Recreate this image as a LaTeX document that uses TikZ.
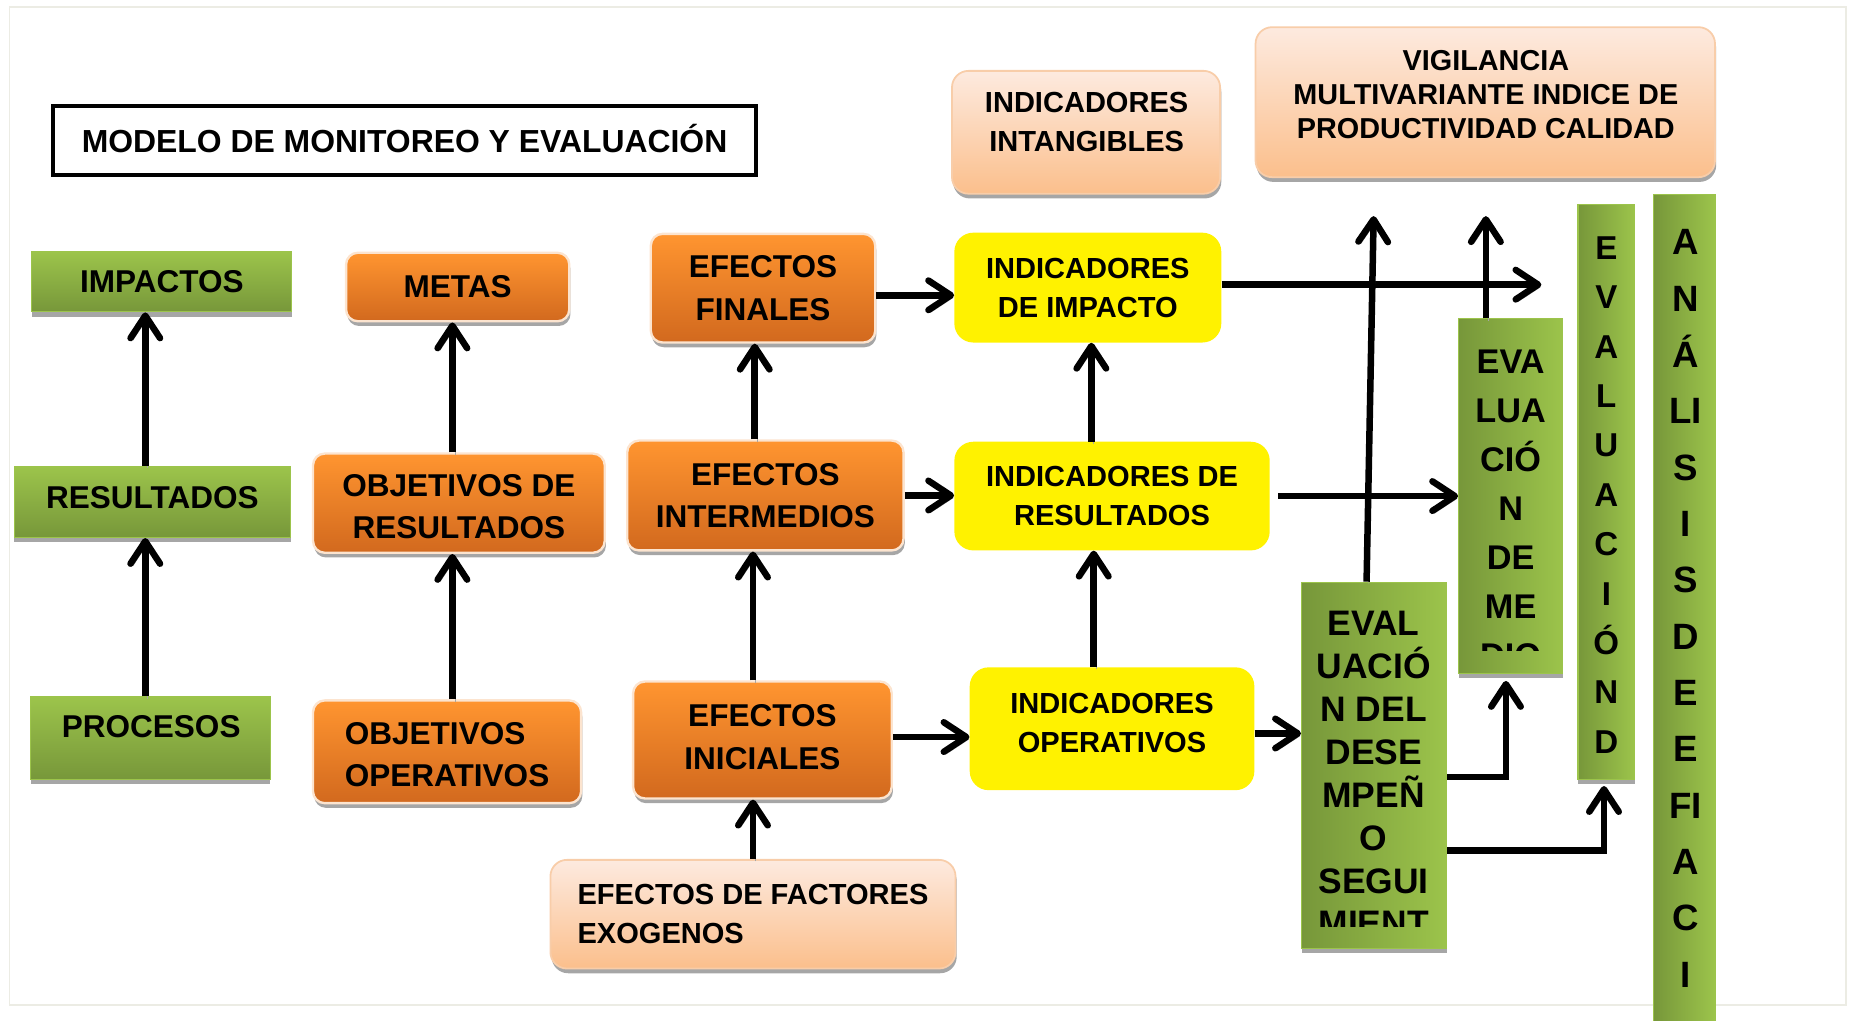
\documentclass[tikz,border=0pt]{standalone}
\usepackage{fontspec}
\setmainfont{Liberation Sans}
\usepackage{tikz}
\usetikzlibrary{arrows.meta,shadows}

\definecolor{grnTop}{HTML}{9CC44B}
\definecolor{grnBot}{HTML}{77973A}
\definecolor{orgTop}{HTML}{FF9530}
\definecolor{orgBot}{HTML}{D2691E}
\definecolor{orgLine}{HTML}{FCE4CF}
\definecolor{pchTop}{HTML}{FDEADF}
\definecolor{pchBot}{HTML}{FBBF8C}
\definecolor{pchLine}{HTML}{F8CDA9}
\definecolor{frameGray}{HTML}{ECECE4}
\definecolor{shadeGray}{HTML}{A6A6A6}

\begin{document}
\begin{tikzpicture}[x=1pt,y=-1pt,
        txt/.style={font=\fontsize{26.7}{36}\selectfont\bfseries, align=center},
        smalltxt/.style={font=\fontsize{24.6}{33}\selectfont\bfseries, align=center},
        greenbox/.style={txt, rectangle, top color=grnTop, bottom color=grnBot, draw=grnTop, line width=1pt,
            drop shadow={shadow xshift=0pt, shadow yshift=-4pt, fill=shadeGray, opacity=1}},
        vgreen/.style={rectangle, left color=grnBot, right color=grnTop, draw=grnTop, line width=1pt,
            drop shadow={shadow xshift=0pt, shadow yshift=-4pt, fill=shadeGray, opacity=1}},
        orgbox/.style={txt, rounded corners=10pt, top color=orgTop, bottom color=orgBot, draw=orgLine, line width=2pt,
            drop shadow={shadow xshift=1pt, shadow yshift=-4pt, fill=shadeGray, opacity=1}},
        pchbox/.style={smalltxt, rounded corners=14pt, top color=pchTop, bottom color=pchBot, draw=pchLine, line width=1.5pt,
            drop shadow={shadow xshift=1pt, shadow yshift=-4pt, fill=shadeGray, opacity=1}},
        ylwbox/.style={smalltxt, rounded corners=16pt, fill=yellow},
        vtxt/.style={align=center},
        arr/.style={line width=5.5pt, -{Straight Barb[length=19pt, width=25pt, round]},
            preaction={draw=shadeGray, transform canvas={shift={(2pt,-2pt)}}}}]
        \useasboundingbox (0,0) rectangle (1568,864);
        \draw [frameGray, line width=1.5pt] (8,6) rectangle (1563,851);

        \node [draw=black, line width=3.5pt, minimum width=595pt, minimum height=58pt, text height=19.4pt, text depth=0pt,
            font=\fontsize{27}{30}\selectfont\bfseries] (titulo) at (342.5,119) {MODELO DE MONITOREO Y EVALUACIÓN};

        % procesos / resultados / impactos
        \node [greenbox, minimum width=220pt, minimum height=51pt] (impactos) at (137,238.5) {IMPACTOS};
        \node [greenbox, minimum width=234pt, minimum height=60pt] (resultados) at (129,425) {};
        \node [txt] (resultadosT) at (129,421) {RESULTADOS};
        \node [greenbox, minimum width=203pt, minimum height=70pt] (procesos) at (127.5,625) {};
        \node [txt] (procesosT) at (128,615) {PROCESOS};

        % objetivos
        \node [orgbox, minimum width=189pt, minimum height=58pt] (metas) at (387.5,243) {METAS};
        \node [orgbox, minimum width=247pt, minimum height=84pt] (objres) at (388.5,426) {};
        \node [txt] (objresT) at (388.5,429) {OBJETIVOS DE\\RESULTADOS};
        \node [orgbox, minimum width=227pt, minimum height=87pt, align=left] (objop) at (378.5,636.5) {};
        \node [txt, align=left] (objopT) at (378.5,639) {OBJETIVOS\\OPERATIVOS};

        % efectos
        \node [orgbox, minimum width=190pt, minimum height=92pt] (efin) at (646,244) {EFECTOS\\FINALES};
        \node [orgbox, minimum width=234pt, minimum height=93pt] (eint) at (648,419.5) {EFECTOS\\INTERMEDIOS};
        \node [orgbox, minimum width=219pt, minimum height=99pt] (eini) at (645.5,626.5) {};
        \node [txt] (einiT) at (645.5,624) {EFECTOS\\INICIALES};
        \node [pchbox, minimum width=343pt, minimum height=92pt, align=left] (exog) at (637.5,774) {EFECTOS DE FACTORES\\EXOGENOS};

        % indicadores
        \node [pchbox, minimum width=227pt, minimum height=104pt] (intang) at (919.5,112) {};
        \node [smalltxt] (intangT) at (920,103.5) {INDICADORES\\INTANGIBLES};
        \node [pchbox, minimum width=389pt, minimum height=127pt] (vigil) at (1257.5,86.5) {};
        \node [smalltxt, font=\fontsize{24.4}{29}\selectfont\bfseries] (vigilT) at (1258,80) {VIGILANCIA\\MULTIVARIANTE INDICE DE\\PRODUCTIVIDAD CALIDAD};
        \node [ylwbox, minimum width=226pt, minimum height=93pt] (iimp) at (921,243.5) {INDICADORES\\DE IMPACTO};
        \node [ylwbox, minimum width=267pt, minimum height=92pt] (ires) at (941.5,420) {INDICADORES DE\\RESULTADOS};
        \node [ylwbox, minimum width=241pt, minimum height=104pt] (iop) at (941.5,617) {};
        \node [smalltxt] (iopT) at (941.5,612) {INDICADORES\\OPERATIVOS};

        % evaluaciones
        \node [vgreen, minimum width=123pt, minimum height=310pt] (desemp) at (1163.5,648) {};
        \begin{scope}
            \clip (desemp.north west) rectangle ([yshift=19pt]desemp.south east);
            \node [vtxt, font=\fontsize{30}{36.3}\selectfont\bfseries] (desempT) at (1163,655) {EVAL\\UACIÓ\\N DEL\\DESE\\MPEÑ\\O\\SEGUI\\MIENT};
        \end{scope}
        \node [vgreen, minimum width=88pt, minimum height=300pt] (medio) at (1279,420) {};
        \begin{scope}
            \clip (medio.north west) rectangle ([yshift=20pt]medio.south east);
            \node [vtxt, font=\fontsize{29}{41.5}\selectfont\bfseries] (medioT) at (1279,431) {EVA\\LUA\\CIÓ\\N\\DE\\ME\\DIO};
        \end{scope}
        \node [vgreen, minimum width=48pt, minimum height=487pt] (evalbar) at (1360,416.5) {};
        \node [vtxt, font=\fontsize{28}{41.8}\selectfont\bfseries] (evalbarT) at (1360,419) {E\\V\\A\\L\\U\\A\\C\\I\\Ó\\N\\D};
        \node [vgreen, minimum width=52pt, minimum height=705pt] (analisis) at (1426,517.5) {};
        \node [vtxt, font=\fontsize{31}{47.7}\selectfont\bfseries] (analisisT) at (1427,515) {A\\N\\Á\\LI\\S\\I\\S\\D\\E\\E\\FI\\A\\C\\I};

        \coordinate (impEnd) at (1305,241);
        \coordinate (despUp) at (1163,183);
        \coordinate (medUp) at (1258,183);

        \draw [arr] ([xshift=-6pt]resultados.north) -- ([xshift=-6pt]resultados.north |- impactos.south);
        \draw [arr] ([xshift=-4.5pt]procesos.north) -- ([xshift=-4.5pt]procesos.north |- resultados.south);
        \draw [arr] ([xshift=-5.5pt]objres.north) -- ([xshift=-5.5pt]objres.north |- metas.south);
        \draw [arr] ([xshift=4.5pt]objop.north) -- ([xshift=4.5pt]objop.north |- objres.south);
        \draw [arr] ([xshift=-9pt]eint.north) -- ([xshift=-9pt]eint.north |- efin.south);
        \draw [arr] ([xshift=-8pt]eini.north) -- ([xshift=-8pt]eini.north |- eint.south);
        \draw [arr] (exog.north) -- (exog.north |- eini.south);
        \draw [arr] ([yshift=-6pt]efin.east) -- ([yshift=-6pt]efin.east -| iimp.west);
        \draw [arr] (eint.east) -- (eint.east -| ires.west);
        \draw [arr] ([yshift=2.5pt]eini.east) -- ([yshift=2.5pt]eini.east -| iop.west);
        \draw [arr] ([xshift=-17.5pt]ires.north) -- ([xshift=-17.5pt]ires.north |- iimp.south);
        \draw [arr] ([xshift=-15.5pt]iop.north) -- ([xshift=-15.5pt]iop.north |- ires.south);
        \draw [arr] ([yshift=2.5pt]iimp.east) -- (impEnd);
        \draw [arr] ([xshift=7pt]ires.east) -- (medio.west);
        \draw [arr] ([yshift=-4pt]iop.east) -- ([yshift=-4pt]iop.east -| desemp.west);
        \draw [arr] ([xshift=-6.5pt]desemp.north) -- (despUp);
        \draw [arr] ([xshift=-21pt]medio.north) -- (medUp);
        \draw [arr] ([yshift=-10pt]desemp.east) -| ([xshift=-4pt,yshift=-6pt]medio.south);
        \draw [arr] ([yshift=-72pt]desemp.east) -| ([xshift=-2pt,yshift=-5pt]evalbar.south);
    \end{tikzpicture}
\end{document}
